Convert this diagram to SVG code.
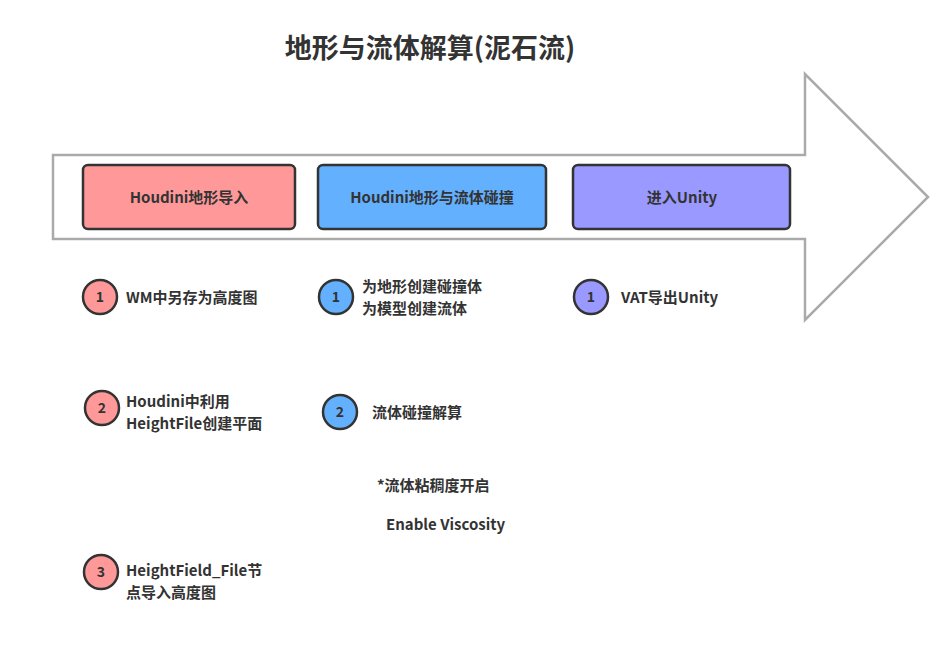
<svg xmlns="http://www.w3.org/2000/svg" width="940" height="653" viewBox="0 0 940 653">
<style>
text{font-family:"Noto Sans CJK SC","Liberation Sans",sans-serif;font-weight:bold;fill:#333;font-size:15px}
.c{text-anchor:middle}
.box{stroke:#333;stroke-width:2.5}
.n{stroke:#333;stroke-width:2.5}
.red{fill:#FF9999}.blue{fill:#63B0FF}.pur{fill:#9999FF}
</style>
<rect width="940" height="653" fill="#fff"/>
<text x="430" y="58" class="c" style="font-size:27px">地形与流体解算(泥石流)</text>
<g id="arrow"><path d="M53,155 H805 V74 L928,197 L805,320 V239 H53 Z" fill="#fff" stroke="#aaa" stroke-width="2.5"/></g>
<g id="b1"><rect class="box red" x="83" y="165" width="212" height="64" rx="5"/><text x="189" y="203" class="c">Houdini地形导入</text></g>
<g id="b2"><rect class="box blue" x="318" y="165" width="228" height="64" rx="5"/><text x="432" y="203" class="c">Houdini地形与流体碰撞</text></g>
<g id="b3"><rect class="box pur" x="573" y="165" width="217" height="64" rx="5"/><text x="682" y="203" class="c">进入Unity</text></g>
<g id="s1"><circle class="n red" cx="100" cy="297" r="17"/><text x="100" y="302" class="c" style="font-size:14px">1</text><text x="126" y="303">WM中另存为高度图</text></g>
<g id="s2"><circle class="n red" cx="102" cy="408" r="17"/><text x="102" y="413" class="c" style="font-size:14px">2</text><text x="126" y="407">Houdini中利用</text><text x="126" y="429">HeightFile创建平面</text></g>
<g id="s3"><circle class="n red" cx="101" cy="572" r="17"/><text x="101" y="577" class="c" style="font-size:14px">3</text><text x="126" y="576">HeightField_File节</text><text x="126" y="598">点导入高度图</text></g>
<g id="t1"><circle class="n blue" cx="336" cy="297" r="17"/><text x="336" y="302" class="c" style="font-size:14px">1</text><text x="362" y="292">为地形创建碰撞体</text><text x="362" y="314">为模型创建流体</text></g>
<g id="t2"><circle class="n blue" cx="340" cy="412" r="17"/><text x="340" y="417" class="c" style="font-size:14px">2</text><text x="372" y="418">流体碰撞解算</text></g>
<g id="note"><text x="377" y="491">*流体粘稠度开启</text><text x="386" y="530">Enable Viscosity</text></g>
<g id="u1"><circle class="n pur" cx="591" cy="297" r="17"/><text x="591" y="302" class="c" style="font-size:14px">1</text><text x="621" y="303">VAT导出Unity</text></g>
<g id="connectors"></g>
</svg>
